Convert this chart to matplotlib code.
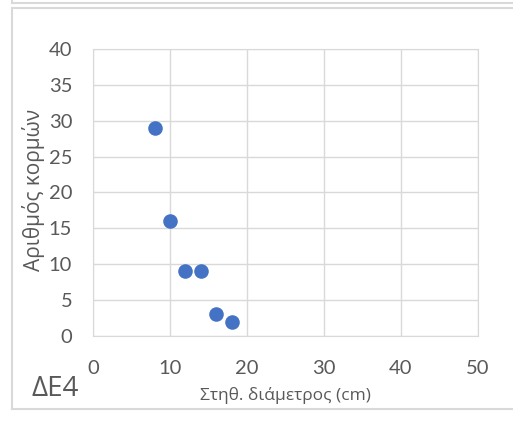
import matplotlib.pyplot as plt
from matplotlib.lines import Line2D

# data
diameter = [8, 10, 12, 14, 16, 18]
stems = [29, 16, 9, 9, 3, 2]
x_ticks = [0, 10, 20, 30, 40, 50]
y_ticks = [0, 5, 10, 15, 20, 25, 30, 35, 40]

plt.rcParams['font.family'] = ['Lato', 'DejaVu Sans']
greek = ['Open Sans', 'DejaVu Sans']
grey = '#595959'

W, H = 513, 428
fig = plt.figure(figsize=(W / 100, H / 100), dpi=100)

# plot area in pixels: left 93, right 478, top 49, bottom 336
ax = fig.add_axes([93 / W, 1 - 336 / H, (478 - 93) / W, (336 - 49) / H])
ax.scatter(diameter, stems, s=110, color='#4472C4', zorder=3, linewidths=0)
ax.set_xlim(0, 50)
ax.set_ylim(0, 40)
ax.set_xticks(x_ticks)
ax.set_yticks(y_ticks)
ax.grid(True, color='#d9d9d9', linewidth=1)
for s in ax.spines.values():
    s.set_color('#d9d9d9')
ax.tick_params(length=0, labelsize=14.5, colors=grey)
ax.tick_params(axis='x', pad=17)
ax.tick_params(axis='y', pad=15)

fig.text(285 / W, 1 - 395 / H, 'Στηθ. διάμετρος (cm)', fontsize=12.5,
         color=grey, ha='center', va='center', family=greek)
fig.text(34 / W, 1 - 190 / H, 'Αριθμός κορμών', rotation=90, fontsize=15,
         color=grey, ha='center', va='center', family=greek)
fig.text(32 / W, 1 - 389 / H, 'ΔΕ4', fontsize=20, color=grey,
         ha='left', va='center', family=greek)

# chart frames
c = '#d9d9d9'
fig.add_artist(Line2D([12 / W, 1], [1 - 3 / H, 1 - 3 / H], color=c, lw=1.5))
fig.add_artist(Line2D([12 / W, 12 / W], [1, 1 - 3 / H], color=c, lw=1.5))
fig.add_artist(Line2D([12 / W, 1], [1 - 8 / H, 1 - 8 / H], color=c, lw=1.5))
fig.add_artist(Line2D([12 / W, 12 / W], [1 - 8 / H, 1 - 409 / H], color=c, lw=1.5))
fig.add_artist(Line2D([12 / W, 1], [1 - 409 / H, 1 - 409 / H], color=c, lw=1.5))

fig.savefig('out.png', dpi=100)
